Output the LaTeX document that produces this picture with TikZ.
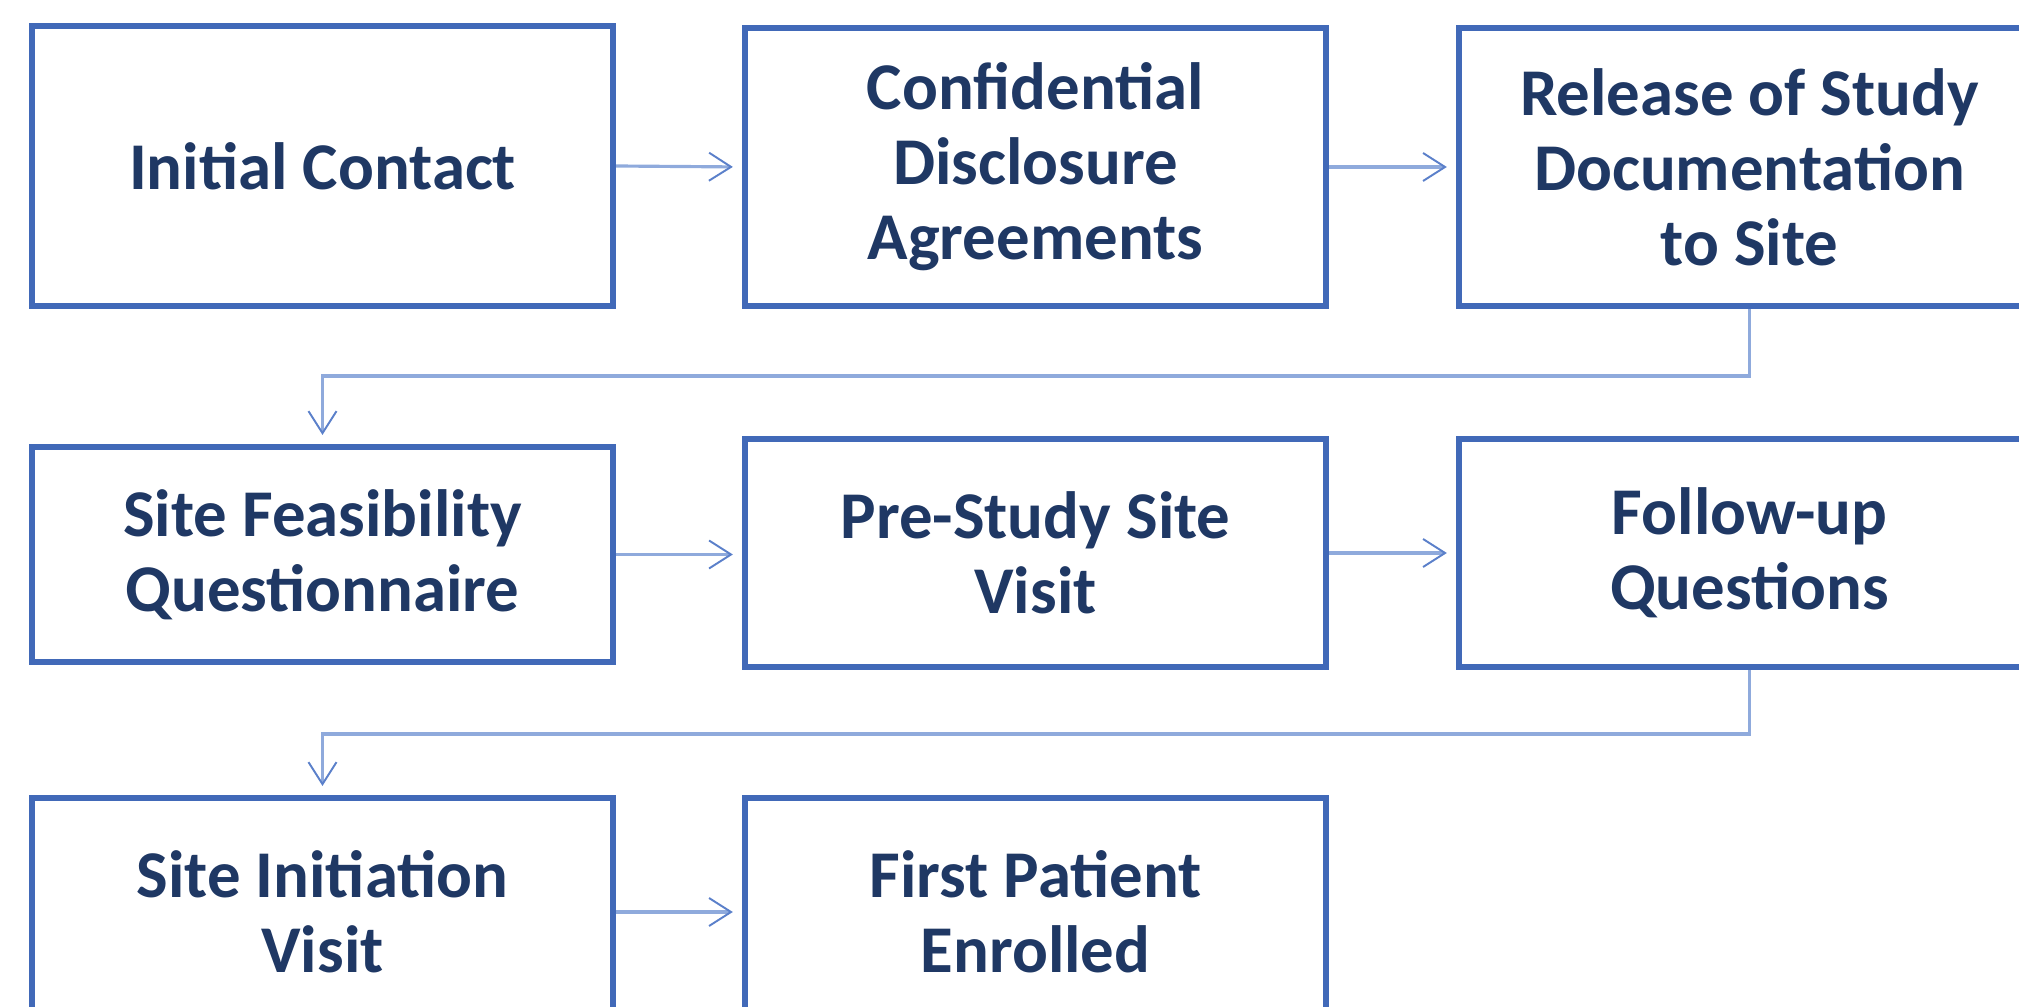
\documentclass[tikz,border=0pt]{standalone}
\usepackage{fontspec}
\setmainfont{Carlito}
\usetikzlibrary{arrows.meta,calc}
\definecolor{boxblue}{HTML}{4169B8}
\definecolor{linkblue}{HTML}{8FAADC}
\definecolor{headblue}{HTML}{5B80CA}
\definecolor{textnavy}{HTML}{1F3864}
\begin{document}
\begin{tikzpicture}[x=0.01cm,y=-0.01cm,
  stepbox/.style={draw=boxblue, line width=1.7pt, fill=white, text=textnavy,
    font=\bfseries\fontsize{19}{21.3}\selectfont, align=center,
    minimum width=5.81cm, inner sep=0pt},
  conn/.style={draw=linkblue, line width=0.9pt, shorten >=0.09cm,
    -{Straight Barb[length=2.2mm,width=2.8mm,line width=0.55pt,color=headblue]}}]
  \useasboundingbox (0,0) rectangle (2019,1007);
  \clip (0,0) rectangle (2019,1007);

  % first row
  \node[stepbox, minimum height=2.80cm] (A) at (322.5,166) {Initial Contact};
  \node[stepbox, minimum height=2.78cm] (B) at (1035.5,167) {Confidential\\Disclosure\\Agreements};
  \node[stepbox, minimum height=2.78cm] (C) at (1749.5,167) {Release of Study\\Documentation\\to Site};

  % second row
  \node[stepbox, minimum height=2.15cm] (D) at (322.5,554.5) {Site Feasibility\\Questionnaire};
  \node[stepbox, minimum height=2.28cm] (E) at (1035.5,553) {Pre-Study Site\\Visit};
  \node[stepbox, minimum height=2.28cm] (F) at (1749.5,553) {Follow-up\\Questions};

  % third row
  \node[stepbox, minimum height=2.28cm] (G) at (322.5,912) {Site Initiation\\Visit};
  \node[stepbox, minimum height=2.28cm] (H) at (1035.5,912) {First Patient\\Enrolled};

  % turn points of the row-to-row links
  \coordinate (r1) at (0,376);
  \coordinate (r2) at (0,734);

  % links
  \draw[conn] (A.east) -- (B.west);
  \draw[conn] (B.east) -- (C.west);
  \draw[conn] (C.south) -- (C.south |- r1) -| (D.north);
  \draw[conn] (D.east) -- (D.east -| E.west);
  \draw[conn] (E.east) -- (F.west);
  \draw[conn] (F.south) -- (F.south |- r2) -| (G.north);
  \draw[conn] (G.east) -- (H.west);
\end{tikzpicture}
\end{document}
